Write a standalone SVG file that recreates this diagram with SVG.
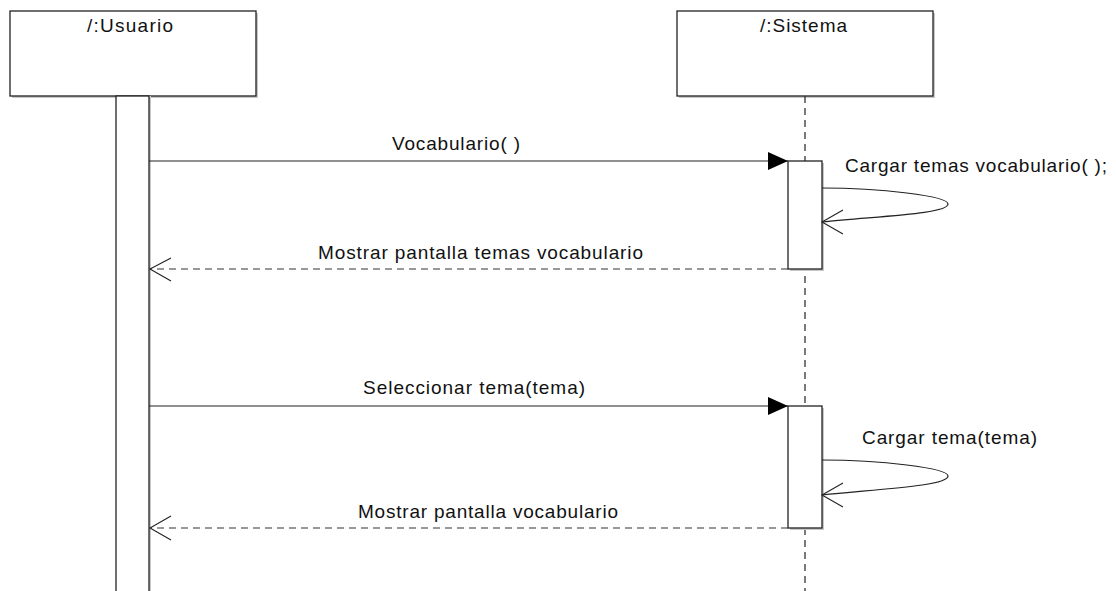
<svg xmlns="http://www.w3.org/2000/svg" width="1116" height="591" viewBox="0 0 1116 591">
  <style>
    .box { fill: #ffffff; stroke: #222222; stroke-width: 1.3; }
    .shadow { fill: #c8c8c8; }
    .life { fill: none; stroke: #333333; stroke-width: 1.3; stroke-dasharray: 7 5; }
    .msg { fill: none; stroke: #222222; stroke-width: 1.2; }
    .ret { fill: none; stroke: #333333; stroke-width: 1.2; stroke-dasharray: 7 5; }
    .open { fill: none; stroke: #222222; stroke-width: 1.1; }
    .lbl { font-family: "Liberation Sans", Arial, sans-serif; font-size: 19px; fill: #111111; }
  </style>
  <defs>
    <marker id="filled" markerWidth="22" markerHeight="20" refX="21" refY="10" orient="auto" markerUnits="userSpaceOnUse">
      <path d="M1,1 L21,10 L1,19 Z" fill="#000000"/>
    </marker>
  </defs>
  <rect width="1116" height="591" fill="#ffffff"/>

  <!-- Usuario lifeline -->
  <g id="usuario">
    <rect class="shadow" x="12" y="13" width="246" height="85"/>
    <rect class="box" x="10" y="11" width="246" height="85"/>
    <text class="lbl" x="87" y="32" textLength="86" lengthAdjust="spacing">/:Usuario</text>
    <rect class="shadow" x="118" y="96" width="33" height="500"/>
    <rect class="box" x="116" y="96" width="33" height="500"/>
  </g>

  <!-- Sistema lifeline -->
  <g id="sistema">
    <rect class="shadow" x="679" y="13" width="256" height="85"/>
    <rect class="box" x="677" y="11" width="256" height="85"/>
    <text class="lbl" x="760" y="32" textLength="87" lengthAdjust="spacing">/:Sistema</text>
    <line class="life" x1="805" y1="96" x2="805" y2="591"/>
  </g>

  <!-- Activations on Sistema -->
  <g id="act1">
    <rect class="shadow" x="790" y="163" width="34" height="108"/>
    <rect class="box" x="788" y="161" width="34" height="108"/>
  </g>
  <g id="act2">
    <rect class="shadow" x="790" y="408" width="34" height="122"/>
    <rect class="box" x="788" y="406" width="34" height="122"/>
  </g>

  <!-- Messages -->
  <g id="connectors">
    <line class="msg" x1="149" y1="161" x2="788" y2="161" marker-end="url(#filled)"/>
    <path class="msg" d="M822,188 C880,188 948,196 948,204 C948,214 880,216 822,222"/>
    <path class="open" d="M843,210 L822,222 L843,234"/>
    <line class="ret" x1="788" y1="269" x2="150" y2="269"/>
    <path class="open" d="M171,258 L150,269 L171,281"/>

    <line class="msg" x1="149" y1="406" x2="788" y2="406" marker-end="url(#filled)"/>
    <path class="msg" d="M822,460 C880,460 948,468 948,476 C948,486 880,489 822,495"/>
    <path class="open" d="M843,483 L822,495 L843,507"/>
    <line class="ret" x1="788" y1="528" x2="150" y2="528"/>
    <path class="open" d="M171,516 L150,528 L171,540"/>
  </g>

  <!-- Message labels -->
  <g id="labels">
    <text class="lbl" x="392" y="150" textLength="128" lengthAdjust="spacing">Vocabulario( )</text>
    <text class="lbl" x="845" y="172" textLength="262" lengthAdjust="spacing">Cargar temas vocabulario( );</text>
    <text class="lbl" x="318" y="259" textLength="325" lengthAdjust="spacing">Mostrar pantalla temas vocabulario</text>
    <text class="lbl" x="363" y="394" textLength="222" lengthAdjust="spacing">Seleccionar tema(tema)</text>
    <text class="lbl" x="862" y="444" textLength="175" lengthAdjust="spacing">Cargar tema(tema)</text>
    <text class="lbl" x="358" y="518" textLength="260" lengthAdjust="spacing">Mostrar pantalla vocabulario</text>
  </g>
</svg>
